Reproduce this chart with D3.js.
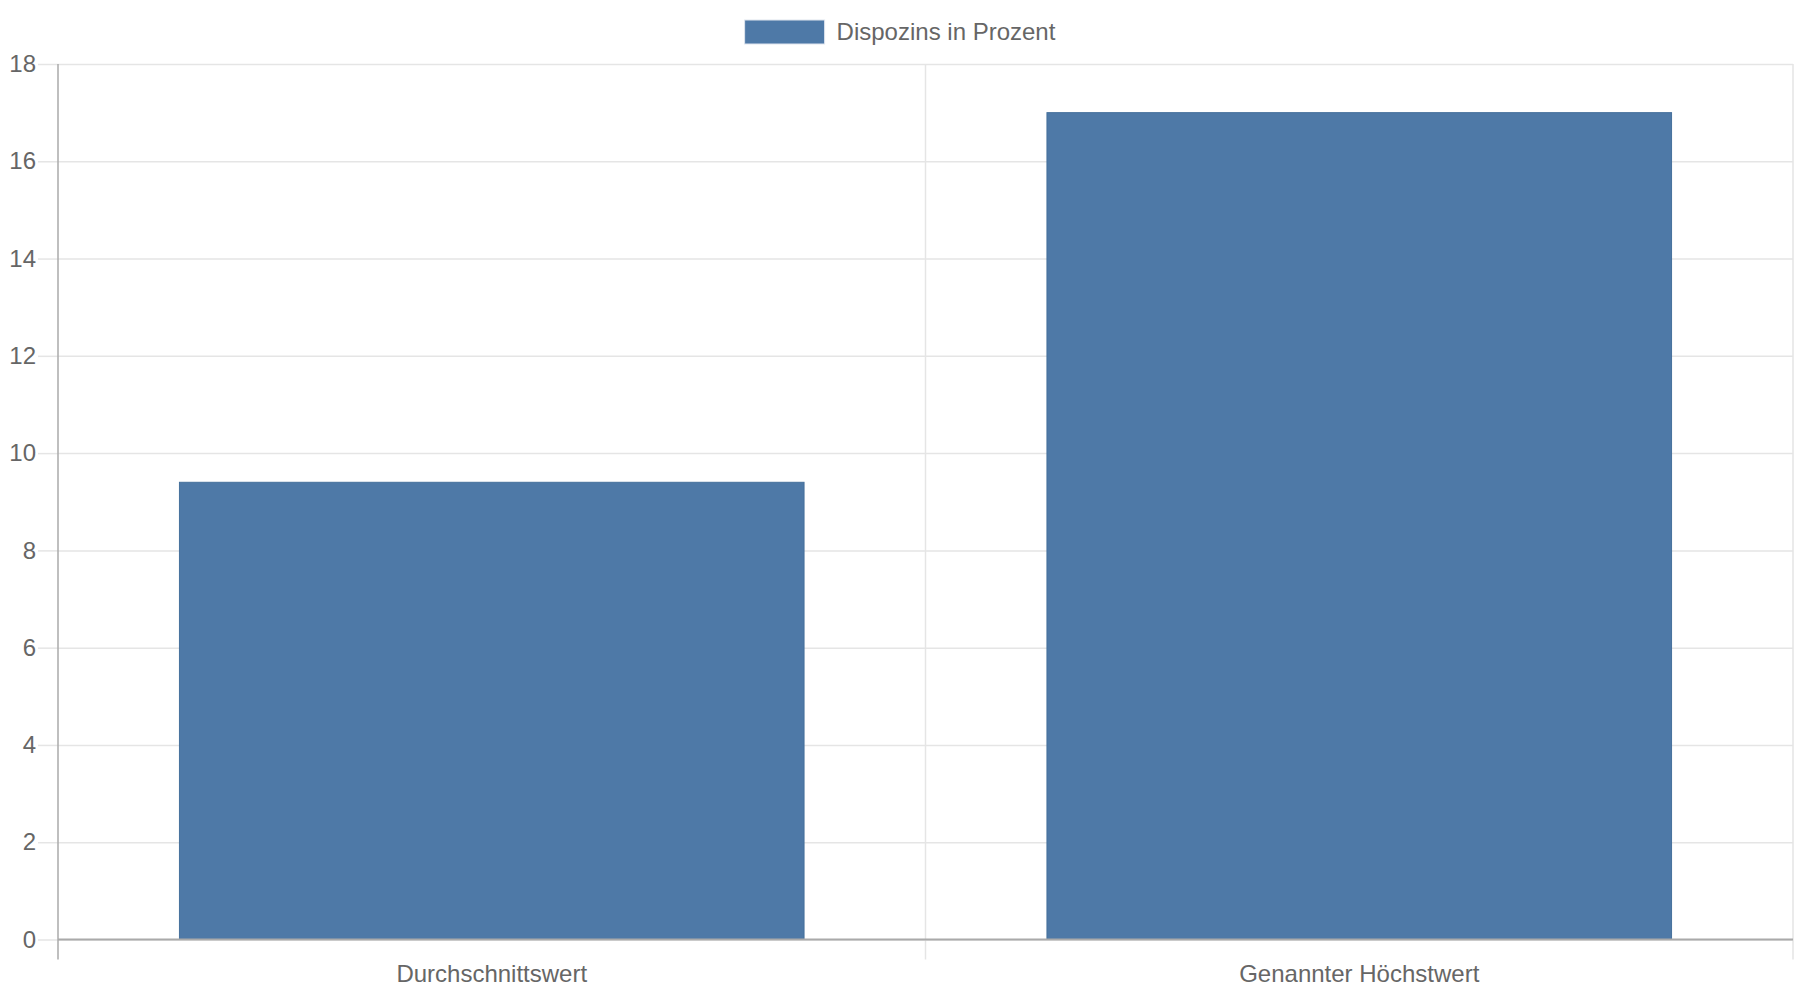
<!DOCTYPE html>
<html lang="de">
<head>
<meta charset="UTF-8">
<title>Dispozins</title>
<script src="https://cdn.jsdelivr.net/npm/d3@7"></script>
<style>
  html, body { margin: 0; padding: 0; background: #fff; }
  svg { display: block; font-family: "Liberation Sans", Arial, sans-serif; }
</style>
</head>
<body>
<svg width="1800" height="1000"></svg>
<script>
// Daten
const categories = ['Durchschnittswert', 'Genannter Höchstwert']
const values = [9.4, 17]
const seriesName = 'Dispozins in Prozent'
const yTicks = [0, 2, 4, 6, 8, 10, 12, 14, 16, 18]

const barColor = '#4e79a7'
const textColor = '#666'
const gridColor = '#e5e5e5'
const axisColor = '#aaa'

const svg = d3.select('svg')
const plotLeft = 58, plotRight = 1793, plotTop = 64, plotBottom = 939.5

const x = d3.scaleBand().domain(categories).range([plotLeft, plotRight]).padding(0)
const y = d3.scaleLinear().domain([0, 18]).range([plotBottom, plotTop])

// horizontale Gitterlinien
svg.append('g')
  .attr('transform', `translate(${plotLeft},0)`)
  .call(d3.axisLeft(y).tickValues(yTicks).tickSize(-(plotRight - plotLeft)).tickFormat(''))
  .call(g => g.select('.domain').remove())
  .call(g => g.selectAll('line').attr('stroke', gridColor).attr('stroke-width', 1.5))

// vertikale Gitterlinien an den Kategoriegrenzen
svg.append('g')
  .selectAll('line')
  .data(categories)
  .join('line')
  .attr('x1', d => x(d) + x.bandwidth())
  .attr('x2', d => x(d) + x.bandwidth())
  .attr('y1', plotTop)
  .attr('y2', plotBottom + 20)
  .attr('stroke', gridColor)
  .attr('stroke-width', 1.5)

// Balken (Chart.js-artig: 0.8 * 0.9 der Bandbreite)
const barW = x.bandwidth() * 0.72
svg.append('g')
  .selectAll('rect')
  .data(values)
  .join('rect')
  .attr('x', (d, i) => x(categories[i]) + (x.bandwidth() - barW) / 2)
  .attr('y', d => y(d))
  .attr('width', barW)
  .attr('height', d => y(0) - y(d))
  .attr('fill', barColor)
  .attr('stroke', '#46709c')
  .attr('stroke-width', 1)

// y-Achse
svg.append('g')
  .attr('transform', `translate(${plotLeft},0)`)
  .call(d3.axisLeft(y).tickValues(yTicks).tickSize(20).tickPadding(2))
  .call(g => g.select('.domain').remove())
  .call(g => g.selectAll('line').attr('stroke', gridColor).attr('stroke-width', 1.5))
  .call(g => g.selectAll('text').attr('fill', textColor).style('font-size', '24px'))

// Achsenlinien
svg.append('line')
  .attr('x1', plotLeft).attr('x2', plotLeft)
  .attr('y1', plotTop).attr('y2', plotBottom + 20)
  .attr('stroke', axisColor).attr('stroke-width', 1.5)
svg.append('line')
  .attr('x1', plotLeft).attr('x2', plotRight)
  .attr('y1', plotBottom).attr('y2', plotBottom)
  .attr('stroke', axisColor).attr('stroke-width', 2)

// x-Achse Beschriftung
svg.append('g')
  .attr('transform', `translate(0,${plotBottom})`)
  .call(d3.axisBottom(x).tickSize(0).tickPadding(25.5))
  .call(g => g.select('.domain').remove())
  .call(g => g.selectAll('text').attr('fill', textColor).style('font-size', '24px'))

// Legende
const legend = svg.append('g')
const legText = legend.append('text')
  .text(seriesName)
  .attr('y', 32)
  .attr('dy', '0.35em')
  .attr('fill', textColor)
  .style('font-size', '24px')
const tw = legText.node().getComputedTextLength()
const lx = 900 - (80 + 12 + tw) / 2
legend.insert('rect', 'text')
  .attr('x', lx)
  .attr('y', 20)
  .attr('width', 80)
  .attr('height', 24)
  .attr('fill', barColor)
  .attr('stroke', '#dfe5ee')
  .attr('stroke-width', 1)
legText.attr('x', lx + 92)
</script>
</body>
</html>
